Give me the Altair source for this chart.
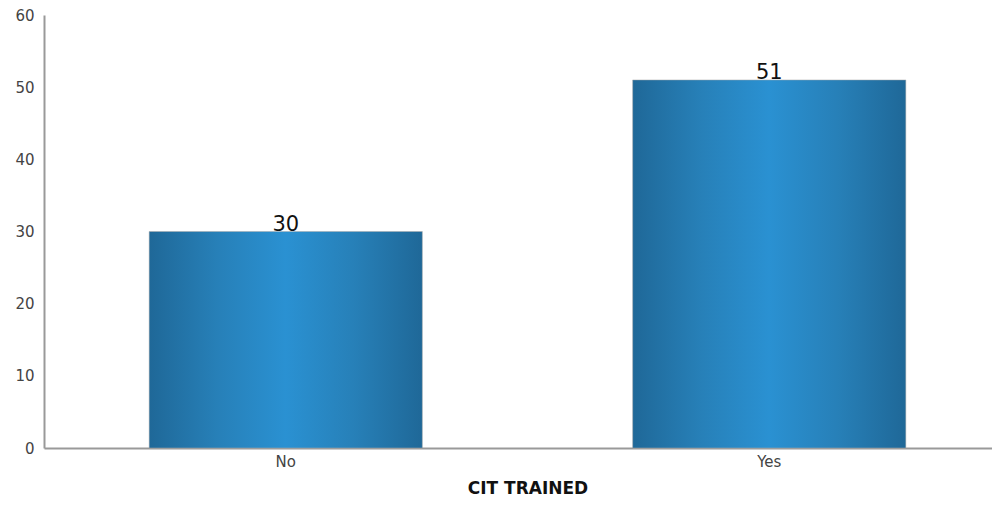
import altair as alt
import pandas as pd

categories = ["No", "Yes"]
values = [30, 51]

df = pd.DataFrame({"cat": categories, "val": values})

grad = {
    "gradient": "linear", "x1": 0, "x2": 1, "y1": 0, "y2": 0,
    "stops": [
        {"offset": 0.0, "color": "#1f6898"},
        {"offset": 0.25, "color": "#2780b8"},
        {"offset": 0.5, "color": "#2a91d2"},
        {"offset": 0.75, "color": "#2780b8"},
        {"offset": 1.0, "color": "#1f6898"},
    ],
}

x = alt.X("cat:N", title="CIT TRAINED", sort=categories,
          scale=alt.Scale(paddingInner=0, paddingOuter=0, range=[0, 967]),
          axis=alt.Axis(labelAngle=0, ticks=False, domainColor="#999999", domainWidth=2,
                        labelColor="#444444", labelFontSize=15, labelFont="DejaVu Sans",
                        labelPadding=6, titleFont="DejaVu Sans", titleFontSize=17,
                        titleFontWeight="bold", titleColor="#111111", titlePadding=11))
y = alt.Y("val:Q", title=None, scale=alt.Scale(domain=[0, 60]),
          axis=alt.Axis(values=[0, 10, 20, 30, 40, 50, 60], ticks=False, grid=False,
                        domainColor="#999999", domainWidth=2, labelColor="#444444",
                        labelFontSize=15, labelFont="DejaVu Sans", labelPadding=10))

bars = alt.Chart(df).mark_bar(width=alt.RelativeBandSize(0.565), color=grad,
                              stroke="#aaaaaa", strokeWidth=0.5).encode(x=x, y=y)
text = alt.Chart(df).mark_text(baseline="alphabetic", dy=-1, fontSize=21, font="DejaVu Sans",
                               color="#111111").encode(x=x, y=y, text="val:Q")

chart = (bars + text).properties(
    width=948, height=433,
    autosize=alt.AutoSizeParams(type="none"),
    padding={"left": 36, "top": 7, "right": 0, "bottom": 49},
).configure_view(stroke=None)

chart.save("out.html", embed_options={"renderer": "svg", "actions": False})
